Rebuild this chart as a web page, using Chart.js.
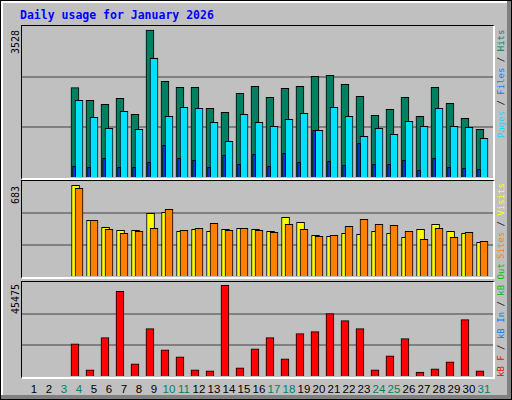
<!DOCTYPE html>
<html lang="en">
<head>
<meta charset="UTF-8" />
<title>Daily usage for January 2026</title>
<script src="https://cdn.jsdelivr.net/npm/chart.js"></script>
<style>
  html, body { margin: 0; padding: 0; }
  #frame {
    position: relative; width: 510px; height: 398px;
    background: #c0c0c0; border: 1px solid #000;
    box-shadow: inset -4px -4px 0 #808080, inset 2px 2px 0 #ffffff;
    overflow: hidden;
  }
  .title {
    position: absolute; left: 19px; top: 7px;
    font: bold 11.5px "DejaVu Sans Mono", monospace; color: #0000ff;
  }
  .panel {
    position: absolute; left: 20px; width: 471px;
    border-top: 1px solid #000; border-left: 1px solid #000;
    border-bottom: 2px solid #fff; border-right: 2px solid #fff;
  }
  .panel canvas { display: block; }
  .vtext {
    position: absolute; transform-origin: 0 0; transform: rotate(-90deg);
    white-space: nowrap; font-family: "DejaVu Sans Mono", monospace;
  }
  .ymax { font-size: 10px; color: #000; }
  .side { font-size: 9px; }
  .day {
    position: absolute; top: 382px; width: 20px; text-align: center;
    font: 11.5px "Liberation Sans", sans-serif;
  }
</style>
</head>
<body>
<div id="frame">
  <div class="title">Daily usage for January 2026</div>

  <div class="panel" style="top:24px; height:152px;"><canvas id="chartHits" width="471" height="152"></canvas></div>
  <div class="panel" style="top:179px; height:96px;"><canvas id="chartVisits" width="471" height="96"></canvas></div>
  <div class="panel" style="top:280px; height:95px;"><canvas id="chartKB" width="471" height="95"></canvas></div>

  <div class="vtext ymax" style="left:9px; top:53px;">3528</div>
  <div class="vtext ymax" style="left:9px; top:203px;">683</div>
  <div class="vtext ymax" style="left:9px; top:313px;">45475</div>

  <div class="vtext side" style="left:495px; top:137px;"><span style="color:#00e0ff">Pages</span> / <span style="color:#0080ff">Files</span> / <span style="color:#008060">Hits</span></div>
  <div class="vtext side" style="left:495px; top:258px;"><span style="color:#ff8000">Sites</span> / <span style="color:#ffff00">Visits</span></div>
  <div class="vtext side" style="left:495px; top:376px;"><span style="color:#ff0000">kB F</span> / <span style="color:#0080ff">kB In</span> / <span style="color:#00c000">kB Out</span></div>

  <div id="dayLabels"></div>
</div>

<script>
  const days = Array.from({ length: 31 }, (_, i) => i + 1);
  const weekendDays = [3, 4, 10, 11, 17, 18, 24, 25, 31];

  const hits   = [0, 0, 0, 2153, 1852, 1757, 1900, 1519, 3528, 2305, 2162, 2162, 1662, 1566, 2019, 2186, 1924, 2138, 2186, 2424, 2448, 2234, 1948, 1495, 1638, 1924, 1471, 2162, 1781, 1423, 1161];
  const files  = [0, 0, 0, 1852, 1447, 1185, 1590, 1161, 2854, 1471, 1686, 1662, 1328, 875, 1519, 1328, 1233, 1399, 1542, 1137, 1686, 1471, 994, 1185, 1042, 1352, 1233, 1662, 1233, 1209, 946];
  const pages  = [0, 0, 0, 279, 255, 470, 255, 255, 374, 780, 470, 422, 255, 541, 327, 565, 279, 589, 374, 1137, 398, 303, 827, 327, 327, 422, 184, 470, 255, 231, 207];
  const visits = [0, 0, 0, 683, 422, 370, 348, 348, 475, 482, 340, 355, 340, 355, 363, 355, 340, 445, 408, 311, 303, 326, 318, 340, 326, 296, 355, 393, 340, 326, 259];
  const sites  = [0, 0, 0, 661, 422, 355, 326, 340, 363, 504, 348, 363, 400, 348, 363, 348, 333, 393, 355, 303, 311, 378, 430, 393, 385, 340, 281, 363, 296, 333, 266];
  const kbytes = [0, 0, 0, 16490, 3498, 19490, 42480, 6497, 23990, 13494, 9996, 3498, 2999, 45475, 4498, 13994, 19490, 8996, 21490, 22490, 31487, 27988, 23990, 3498, 10496, 18992, 2499, 3998, 7497, 28488, 2999];

  // 15px per day across a 471px wide plot, day 1 centred 12px in
  const X_MIN = 0.2, X_MAX = 0.2 + 471 / 15;

  function pts(values, shift) {
    return values.map((v, i) => ({ x: days[i] + shift, y: v }));
  }

  function series(values, shift, color, thick, order) {
    return {
      data: pts(values, shift),
      backgroundColor: color,
      borderColor: '#000',
      borderWidth: 1,
      borderSkipped: 'bottom',
      barThickness: thick,
      grouped: false,
      order: order
    };
  }

  function drawPanel(canvasId, datasets, yMax) {
    const ctx = document.getElementById(canvasId).getContext('2d');
    return new Chart(ctx, {
      type: 'bar',
      data: { datasets },
      options: {
        responsive: false,
        animation: false,
        layout: { padding: 0 },
        plugins: { legend: { display: false }, tooltip: { enabled: false } },
        scales: {
          x: { type: 'linear', min: X_MIN, max: X_MAX, offset: false, display: false },
          y: {
            min: 0, max: yMax,
            afterBuildTicks: s => { s.ticks = [0, 1, 2, 3].map(k => ({ value: yMax * k / 3 })); },
            ticks: { display: false },
            border: { display: false },
            grid: {
              drawTicks: false,
              lineWidth: 2,
              color: c => (c.index === 1 || c.index === 2) ? '#808080' : 'rgba(0,0,0,0)'
            }
          }
        }
      }
    });
  }

  drawPanel('chartHits', [
    series(hits,  -0.27, '#008060', 8, 3),
    series(files,  0,    '#00e0ff', 8, 2),
    series(pages, -0.33, '#0040ff', 3, 1)
  ], 3623);

  drawPanel('chartVisits', [
    series(visits, -0.23, '#ffff00', 8, 2),
    series(sites,   0,    '#ff8000', 8, 1)
  ], 715);

  drawPanel('chartKB', [
    series(kbytes, -0.27, '#ff0000', 8, 1)
  ], 47112);

  const labelBox = document.getElementById('dayLabels');
  days.forEach(d => {
    const el = document.createElement('div');
    el.className = 'day';
    el.textContent = d;
    el.style.left = (33 + (d - 1) * 15 - 10) + 'px';
    el.style.color = weekendDays.includes(d) ? '#008060' : '#000';
    labelBox.appendChild(el);
  });
</script>
</body>
</html>
